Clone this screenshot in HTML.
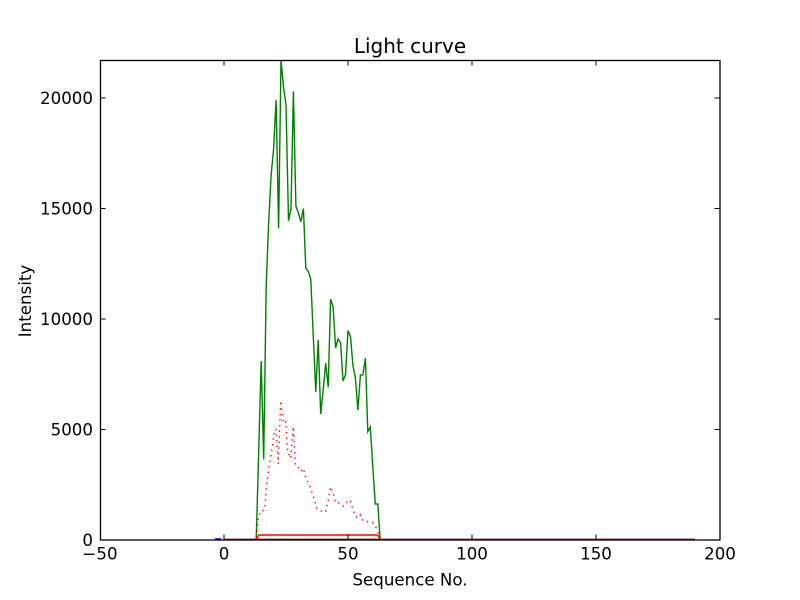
<!DOCTYPE html>
<html><head><meta charset="utf-8"><style>
html,body{margin:0;padding:0;background:#fff;}
svg{display:block;}
text{font-family:"DejaVu Sans","Liberation Sans",sans-serif;fill:#000;}
</style></head><body>
<svg width="800" height="600" viewBox="0 0 800 600" xmlns="http://www.w3.org/2000/svg">
<rect width="800" height="600" fill="#fff"/>
<defs><clipPath id="c"><rect x="100" y="60" width="620" height="480"/></clipPath></defs>
<g clip-path="url(#c)" fill="none" stroke-linejoin="miter">
<!-- baseline data -->
<line x1="224" y1="539.3" x2="695" y2="539.3" stroke="#8a1010" stroke-width="1.4"/>
<line x1="215" y1="539.2" x2="221" y2="539.2" stroke="#0000ff" stroke-width="2"/>
<!-- green -->
<polyline stroke="#008000" stroke-width="1.4" points="
256.2,540 258.7,451.6 261.2,361 263.7,459.3 266.2,285.9 268.6,224 271.1,175.4 273.6,148.8 276.1,100.2 278.6,228.4 281,60 283.5,87 286,104.6 288.5,220.7 291,208.5 293.4,91.4 295.9,206.3 298.4,212.9 300.9,221.8 303.4,208.5 305.8,268.2 308.3,271.5 310.8,279.2 313.3,336.7 315.8,391.9 318.2,340 320.7,414 323.2,390 325.7,363.2 328.2,387.1 330.6,299.1 333.1,306.6 335.6,347.9 338.1,338.9 340.6,343.1 343,380.9 345.5,374.9 348,330.7 350.5,336.7 353,366.1 355.4,378 357.9,410.1 360.4,374.9 362.9,374.9 365.4,358.1 367.8,431.7 370.3,427.1 372.8,466.6 375.3,504 377.8,504 380.2,540 695,540"/>
<!-- red solid -->
<polyline stroke="#ff0000" stroke-width="1.4" points="256.2,540 258.7,535 377.8,535 380.2,540"/>
<!-- red dotted -->
<polyline stroke="#ff0000" stroke-width="1.4" stroke-dasharray="1.4 4.2" points="
256.2,536.7 258.7,516.1 261.2,510.6 263.7,510.6 265.2,505 266.7,484 269,466.7 271.7,451 274,434 276,429 278.3,464 280.7,400.7 283.3,423.3 285.7,421.7 287.7,451.7 290.7,458.3 293.3,426.7 295.3,465 298.3,467.3 300.9,471.5 303.3,468.3 306,478.3 310,486.7 314,498.3 316.7,508.3 320,510 323.2,512.6 325.7,511.3 328.2,500 330.6,486.7 333.1,493.4 335.6,502.7 338.1,502.4 340.6,504.6 343,506 345.5,505.1 348,500 350.5,501.3 353,510 355.4,515.7 357.9,518.3 360.4,515 362.9,520.8 365.4,521.2 367.8,521.7 370.3,522.3 372.8,522.8 375.3,526.1 377.8,531.2 380.2,540"/>
</g>
<!-- axes frame -->
<rect x="100.5" y="60.5" width="619.5" height="479.5" fill="none" stroke="#000" stroke-width="1.3"/>
<!-- ticks -->
<g stroke="#000" stroke-width="1">
<line x1="224" y1="540" x2="224" y2="534.5"/><line x1="348" y1="540" x2="348" y2="534.5"/><line x1="472" y1="540" x2="472" y2="534.5"/><line x1="596" y1="540" x2="596" y2="534.5"/>
<line x1="224" y1="60" x2="224" y2="65.5"/><line x1="348" y1="60" x2="348" y2="65.5"/><line x1="472" y1="60" x2="472" y2="65.5"/><line x1="596" y1="60" x2="596" y2="65.5"/>
<line x1="100" y1="429.5" x2="105.5" y2="429.5"/><line x1="100" y1="319" x2="105.5" y2="319"/><line x1="100" y1="208.5" x2="105.5" y2="208.5"/><line x1="100" y1="98" x2="105.5" y2="98"/>
<line x1="720" y1="429.5" x2="714.5" y2="429.5"/><line x1="720" y1="319" x2="714.5" y2="319"/><line x1="720" y1="208.5" x2="714.5" y2="208.5"/><line x1="720" y1="98" x2="714.5" y2="98"/>
</g>
<!-- tick labels -->
<g font-size="16.67" text-anchor="middle">
<text x="100" y="559.5">−50</text>
<text x="224" y="559.5">0</text>
<text x="348" y="559.5">50</text>
<text x="472" y="559.5">100</text>
<text x="596" y="559.5">150</text>
<text x="720" y="559.5">200</text>
</g>
<g font-size="16.67" text-anchor="end">
<text x="93" y="546">0</text>
<text x="93" y="435.5">5000</text>
<text x="93" y="325">10000</text>
<text x="93" y="214.5">15000</text>
<text x="93" y="104">20000</text>
</g>
<text x="410" y="53" font-size="20" text-anchor="middle">Light curve</text>
<text x="410" y="585.5" font-size="16.67" text-anchor="middle">Sequence No.</text>
<text transform="translate(31,301) rotate(-90)" font-size="16.67" text-anchor="middle">Intensity</text>
</svg>
</body></html>
